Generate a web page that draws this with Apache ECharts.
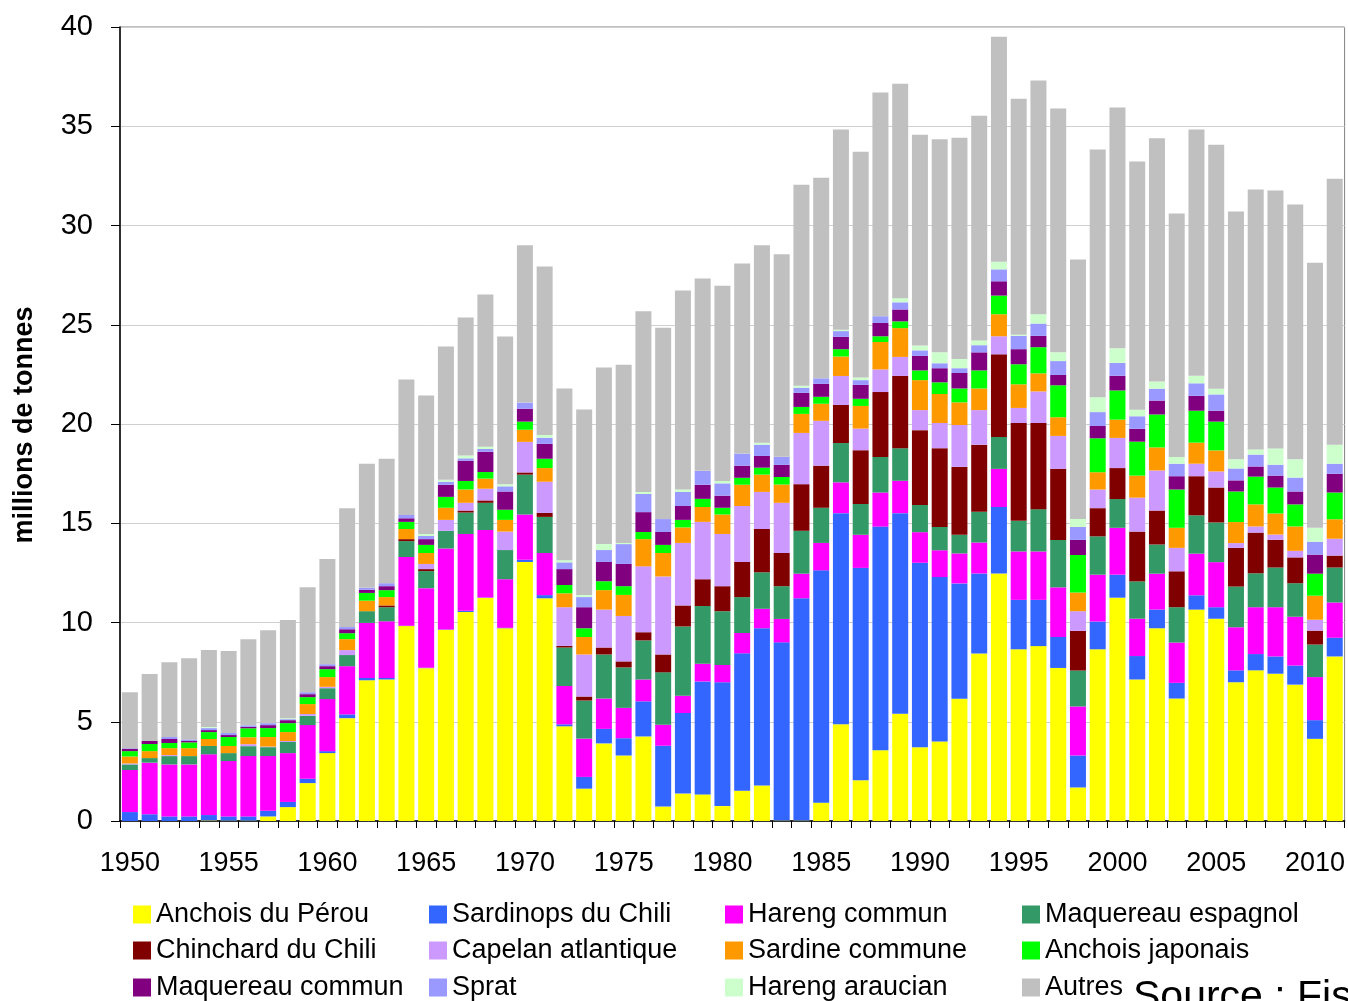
<!DOCTYPE html>
<html>
<head>
<meta charset="utf-8">
<script src="https://cdn.jsdelivr.net/npm/echarts@6/dist/echarts.min.js"></script>
<style>
  html, body { margin: 0; padding: 0; background: #fff; }
  #chart { width: 1348px; height: 1001px; }
</style>
</head>
<body>
<div id="chart"></div>
<script>
// années 1950 - 2011
const years = [];
for (let y = 1950; y <= 2011; y++) years.push(String(y));

const anchoisPerou = [0,0,0,0,0.03,0.02,0.02,0.23,0.7,1.91,3.42,5.18,7.09,7.13,9.82,7.7,9.63,10.53,11.24,9.71,13.05,11.22,4.77,1.63,3.91,3.3,4.26,0.73,1.38,1.34,0.75,1.53,1.79,0.02,0.02,0.92,4.88,2.05,3.56,5.4,3.71,4.0,6.16,8.44,12.47,8.65,8.81,7.71,1.69,8.65,11.25,7.13,9.71,6.17,10.65,10.19,6.99,7.59,7.42,6.87,4.14,8.29];
const sardinopsChili = [0.45,0.34,0.23,0.23,0.27,0.21,0.21,0.29,0.26,0.22,0.1,0.19,0.12,0.08,0.02,0.02,0.02,0.06,0.02,0.02,0.11,0.16,0.1,0.59,0.73,0.87,1.77,3.06,4.06,5.69,6.24,6.92,7.92,8.98,11.2,11.71,10.63,10.7,11.27,10.11,9.3,8.29,5.81,4.03,3.35,2.49,2.33,1.56,1.61,1.4,1.16,1.18,0.94,0.79,0.72,0.58,0.6,0.82,0.87,0.96,0.94,0.94];
const harengCommun = [2.12,2.6,2.62,2.62,3.06,2.79,3.04,2.75,2.46,2.7,2.62,2.43,2.77,2.85,3.46,4.01,4.08,3.87,3.4,2.45,2.28,2.12,1.93,1.93,1.53,1.53,1.1,1.06,0.87,0.89,0.87,1.02,0.98,1.18,1.24,1.38,1.55,1.67,1.72,1.63,1.54,1.35,1.51,1.56,1.92,2.44,2.44,2.5,2.47,2.36,2.36,1.88,1.81,2.03,2.1,2.27,2.17,2.36,2.48,2.46,2.17,1.78];
const maquereauEspagnol = [0.28,0.23,0.42,0.42,0.42,0.4,0.5,0.45,0.56,0.47,0.55,0.56,0.59,0.71,0.8,0.86,0.89,1.08,1.37,1.47,2.01,1.82,1.94,1.92,2.22,2.04,1.97,2.64,3.49,2.91,2.71,1.81,1.84,1.65,2.16,1.77,1.98,1.55,1.79,1.64,1.37,1.17,0.94,1.55,1.61,1.54,2.13,2.39,1.81,1.93,1.45,1.88,1.47,1.78,1.93,2.0,2.05,1.71,2.0,1.69,1.64,1.76];
const chinchardChili = [0,0,0,0,0,0,0,0,0,0,0,0,0,0.09,0.1,0.1,0,0.1,0.12,0,0.11,0.2,0.08,0.2,0.35,0.3,0.41,0.9,1.06,1.35,1.26,1.77,2.18,1.67,2.35,2.12,1.92,2.71,3.27,3.64,3.77,3.97,3.42,3.38,4.16,4.93,4.34,3.58,2.0,1.42,1.56,2.51,1.71,1.81,1.97,1.76,1.95,2.05,1.4,1.3,0.7,0.6];
const capelanAtlantique = [0.05,0,0.05,0,0,0,0.1,0.03,0.05,0.09,0.07,0.25,0,0,0,0.26,0.55,0.39,0.59,0.93,1.54,1.57,1.95,2.12,1.91,2.29,3.32,3.93,3.15,2.89,2.63,2.82,1.87,2.53,2.58,2.26,1.46,1.09,1.14,0.96,1.01,1.27,2.11,1.74,0.91,0.76,1.59,1.66,0.99,0.94,1.52,1.71,2.02,1.18,0.63,0.81,0.24,0.31,0.26,0.33,0.55,0.85];
const sardineCommune = [0.35,0.35,0.35,0.4,0.35,0.36,0.35,0.48,0.45,0.5,0.49,0.55,0.53,0.42,0.51,0.55,0.61,0.67,0.51,0.59,0.61,0.69,0.7,0.88,0.98,1.06,1.37,1.18,0.78,0.75,0.98,1.07,0.87,0.92,0.96,0.86,0.98,1.14,1.38,1.45,1.51,1.46,1.14,1.09,1.11,1.19,0.91,0.94,0.94,0.87,0.92,1.11,1.16,1.01,1.06,1.06,1.06,1.11,1.06,1.23,1.21,0.98];
const anchoisJaponais = [0.27,0.36,0.26,0.29,0.35,0.45,0.45,0.45,0.45,0.35,0.4,0.3,0.39,0.35,0.36,0.41,0.55,0.43,0.33,0.51,0.41,0.47,0.42,0.44,0.45,0.44,0.36,0.41,0.38,0.41,0.34,0.35,0.35,0.38,0.35,0.35,0.37,0.36,0.29,0.34,0.49,0.59,0.7,0.91,0.94,1.01,1.32,1.61,1.89,1.71,1.47,1.71,1.66,1.93,1.61,1.45,1.54,1.4,1.31,1.11,1.11,1.35];
const maquereauCommun = [0.12,0.15,0.2,0.07,0.1,0.1,0.07,0.15,0.15,0.15,0.15,0.2,0.16,0.2,0.18,0.29,0.61,1.02,1.02,0.92,0.65,0.75,0.8,1.06,0.97,1.12,1.0,0.65,0.7,0.71,0.61,0.61,0.59,0.61,0.71,0.65,0.62,0.7,0.67,0.6,0.73,0.71,0.78,0.91,0.72,0.76,0.57,0.52,0.76,0.62,0.74,0.65,0.7,0.67,0.75,0.55,0.56,0.51,0.6,0.65,0.96,0.94];
const sprat = [0.03,0,0.1,0.08,0.1,0.1,0.08,0.1,0.05,0.1,0.1,0.11,0.1,0.15,0.17,0.16,0.15,0.12,0.14,0.26,0.31,0.31,0.34,0.51,0.6,1.0,0.92,0.65,0.71,0.7,0.62,0.61,0.57,0.41,0.26,0.28,0.29,0.24,0.34,0.36,0.28,0.25,0.24,0.36,0.6,0.67,0.62,0.7,0.65,0.7,0.65,0.63,0.6,0.63,0.63,0.82,0.6,0.6,0.55,0.7,0.65,0.51];
const harengAraucan = [0,0,0,0,0.05,0,0,0,0.05,0,0,0,0,0,0,0.1,0.1,0.14,0.12,0.1,0,0.14,0.11,0.1,0.3,0.06,0.1,0,0.12,0,0.12,0,0.1,0,0.1,0,0.07,0.13,0,0.21,0.24,0.55,0.46,0.24,0.39,0.05,0.47,0.44,0.41,0.75,0.73,0.33,0.36,0.34,0.38,0.29,0.46,0.26,0.82,0.92,0.7,0.96];
const autres = [2.82,3.37,3.77,4.09,3.88,4.13,4.33,4.68,4.94,5.29,5.3,5.98,6.25,6.27,6.82,6.97,6.72,6.95,7.66,7.45,7.92,8.49,8.65,9.35,8.9,8.98,9.1,9.64,10.02,9.69,9.84,9.58,9.94,10.2,10.12,10.1,10.08,11.37,11.27,10.8,10.62,10.73,11.15,11.32,11.33,11.9,11.77,12.29,13.07,12.48,12.14,12.51,12.25,12.26,12.41,12.29,12.48,13.09,12.99,12.84,13.35,13.4];

const yTicks = [0, 5, 10, 15, 20, 25, 30, 35, 40];

const seriesList = [
  ['Anchois du Pérou', anchoisPerou, '#FFFF00'],
  ['Sardinops du Chili', sardinopsChili, '#3366FF'],
  ['Hareng commun', harengCommun, '#FF00FF'],
  ['Maquereau espagnol', maquereauEspagnol, '#339966'],
  ['Chinchard du Chili', chinchardChili, '#800000'],
  ['Capelan atlantique', capelanAtlantique, '#CC99FF'],
  ['Sardine commune', sardineCommune, '#FF9900'],
  ['Anchois japonais', anchoisJaponais, '#00FF00'],
  ['Maquereau commun', maquereauCommun, '#800080'],
  ['Sprat', sprat, '#9999FF'],
  ['Hareng araucian', harengAraucan, '#CCFFCC'],
  ['Autres', autres, '#C0C0C0']
];

const font = 'Liberation Sans, Arial, sans-serif';

// une légende par élément, 4 colonnes x 3 lignes
const colLeft = [133, 429, 725, 1022];
const rowTop = [901, 937, 974];
const legends = seriesList.map((s, i) => ({
  orient: 'horizontal',
  left: colLeft[i % 4],
  top: rowTop[Math.floor(i / 4)],
  padding: 0,
  itemWidth: 18,
  itemHeight: 18,
  icon: 'rect',
  selectedMode: false,
  textStyle: { fontFamily: font, fontSize: 27, color: '#000' },
  data: [s[0]]
}));

const chart = echarts.init(document.getElementById('chart'));
chart.setOption({
  animation: false,
  backgroundColor: '#fff',
  grid: {
    left: 120, right: 3, top: 27, bottom: 180,
    show: true, borderColor: '#808080', borderWidth: 1, backgroundColor: 'transparent'
  },
  legend: legends,
  xAxis: {
    type: 'category',
    data: years,
    boundaryGap: true,
    axisLine: { lineStyle: { color: '#000', width: 1.5 } },
    axisTick: { show: true, interval: 0, length: 7, lineStyle: { color: '#000' } },
    axisLabel: { interval: 4, margin: 29, fontFamily: font, fontSize: 27, color: '#000' },
    splitLine: { show: false }
  },
  yAxis: {
    type: 'value',
    min: 0, max: 40, interval: 5,
    axisLine: { show: true, lineStyle: { color: '#000', width: 1.5 } },
    axisTick: { show: true, length: 9, lineStyle: { color: '#000' } },
    axisLabel: {
      margin: 27, fontFamily: font, fontSize: 29, color: '#000',
      formatter: v => (yTicks.indexOf(v) >= 0 ? String(v) : '')
    },
    splitLine: { lineStyle: { color: '#cfcfcf', width: 1 } }
  },
  graphic: [
    {
      type: 'text', x: 25, y: 425, rotation: Math.PI / 2,
      style: {
        text: 'millions de tonnes', fontFamily: font, fontSize: 27, fontWeight: 'bold',
        fill: '#000', textAlign: 'center', textVerticalAlign: 'middle'
      }
    },
    {
      type: 'text', x: 1133, y: 977,
      style: {
        text: 'Source : FishStat', fontFamily: font, fontSize: 41,
        fill: '#000', textAlign: 'left', textVerticalAlign: 'top'
      }
    }
  ],
  series: seriesList.map(([name, values, color]) => ({
    name: name,
    type: 'bar',
    stack: 'total',
    barCategoryGap: '19%',
    data: values,
    itemStyle: { color: color },
    emphasis: { disabled: true }
  }))
});
</script>
</body>
</html>
